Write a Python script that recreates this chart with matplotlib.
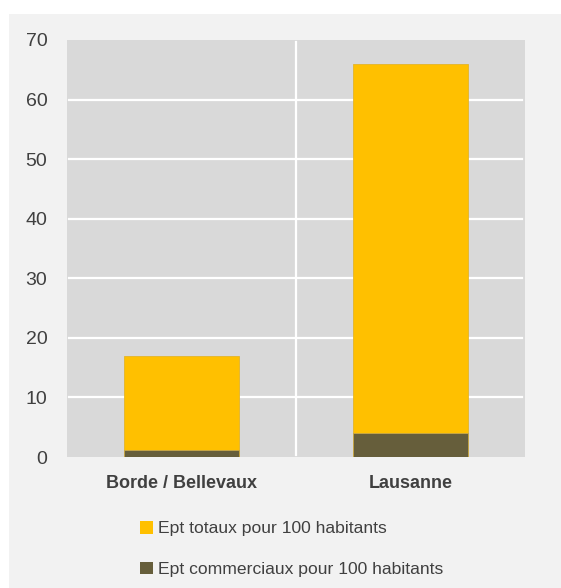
import matplotlib
matplotlib.use("Agg")
import matplotlib.pyplot as plt
from matplotlib.patches import Rectangle, Patch

categories = ["Borde / Bellevaux", "Lausanne"]
ept_totaux = [17.0, 66.0]
ept_commerciaux = [1.1, 4.1]
yticks = [0, 10, 20, 30, 40, 50, 60, 70]
labels = ["Ept totaux pour 100 habitants", "Ept commerciaux pour 100 habitants"]

plt.rcParams['font.family'] = ['Liberation Sans Narrow', 'Liberation Sans', 'DejaVu Sans']

c_tot = "#FFC000"
c_com = "#665E3B"
txt = "#404040"

fig = plt.figure(figsize=(5.61, 5.88), dpi=100)
fig.patch.set_facecolor("white")
bg = Rectangle((9/561, 0), 1 - 9/561, (588-14)/588, transform=fig.transFigure,
               facecolor="#F2F2F2", edgecolor="none", zorder=-10)
fig.add_artist(bg)

ax = fig.add_axes([66.7/561, 131/588, (525-66.7)/561, (457-40)/588])
ax.set_zorder(1)
ax.set_facecolor("#D9D9D9")
for s in ax.spines.values():
    s.set_visible(False)

x = range(len(categories))
ax.bar(x, ept_totaux, width=0.5, color=c_tot, edgecolor="#E3B52A", linewidth=0.6, zorder=3)
ax.bar(x, ept_commerciaux, width=0.5, color=c_com, edgecolor="#C9A94A", linewidth=0.6, zorder=4)

ax.set_xlim(-0.5, len(categories) - 0.5)
ax.set_ylim(0, 70)
ax.set_yticks(yticks)
for t in yticks[1:-1]:
    ax.axhline(t, xmin=0.006, xmax=0.994, color="white", linewidth=1.6, zorder=1)
ax.axvline(0.5, ymin=0.005, ymax=0.995, color="white", linewidth=1.6, zorder=1)

ax.set_xticks(list(x))
ax.set_xticklabels(categories, fontsize=13, fontweight="bold", color=txt)
ax.tick_params(axis="x", length=0, pad=13)
ax.tick_params(axis="y", length=0, pad=14, labelsize=14, labelcolor=txt)

handles = [Patch(facecolor=c_tot, edgecolor="none"), Patch(facecolor=c_com, edgecolor="none")]
leg = fig.legend(handles, labels, loc="upper left", bbox_to_anchor=(124/561, 1 - 505/588),
                 frameon=False, fontsize=12.6, handlelength=0.75, handleheight=0.75,
                 handletextpad=0.3, labelspacing=1.45, labelcolor=txt)
leg.set_zorder(5)

fig.savefig("out.png", dpi=100, facecolor=fig.get_facecolor())
